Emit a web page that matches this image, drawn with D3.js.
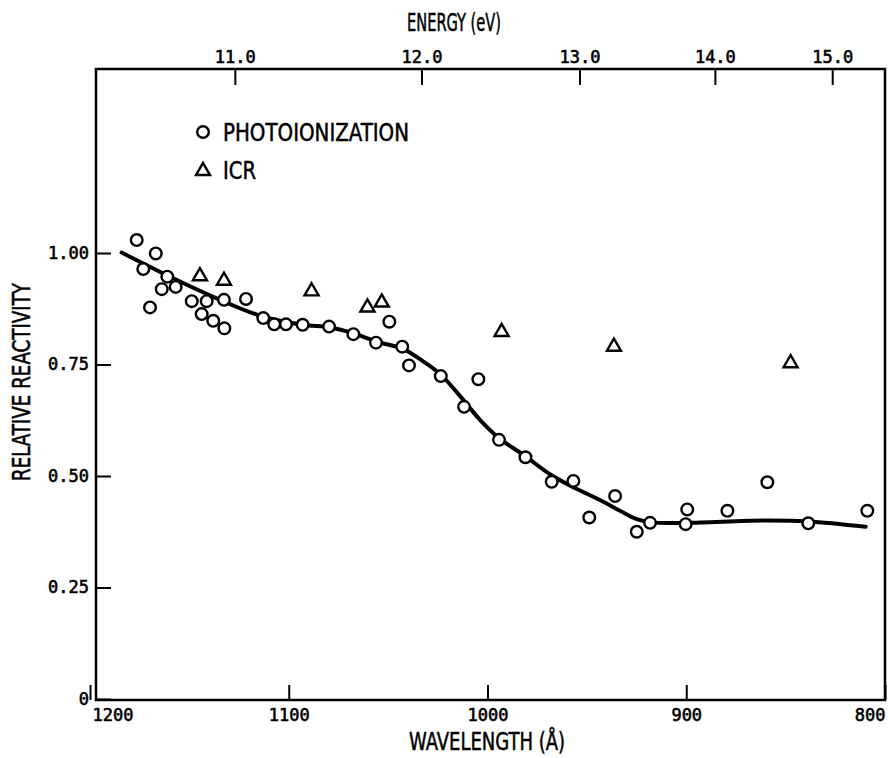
<!DOCTYPE html>
<html><head><meta charset="utf-8">
<script src="https://cdn.jsdelivr.net/npm/d3@7"></script>
<style>body{margin:0;background:#fff}</style></head>
<body>
<svg id="chart" width="888" height="758"></svg>
<script>
// ---- data ----
const photoWavelength = [1176.5,1166.9,1173.2,1161.1,1163.9,1156.9,1169.8,1148.8,1141.3,1132.6,1121.5,1143.8,1138.0,1132.4,1112.8,1107.3,1101.4,1093.0,1079.7,1067.5,1056.1,1049.4,1042.9,1039.5,1023.5,1004.6,1011.8,994.2,980.9,967.7,956.8,935.8,948.8,924.9,918.2,899.5,900.3,879.3,859.2,838.6,808.9];
const photoValue      = [1.029,0.999,0.964,0.947,0.919,0.924,0.878,0.892,0.892,0.895,0.897,0.863,0.848,0.831,0.854,0.840,0.840,0.839,0.835,0.818,0.799,0.846,0.790,0.748,0.724,0.717,0.655,0.581,0.542,0.487,0.489,0.455,0.407,0.375,0.395,0.425,0.392,0.422,0.486,0.394,0.422];
const icrWavelength = [1144.7,1132.6,1088.5,1060.4,1053.2,992.9,936.4,847.5];
const icrValue      = [0.948,0.938,0.914,0.878,0.889,0.823,0.790,0.753];
const curveWavelength = [1184.1,1161.3,1134.6,1112.8,1093.0,1079.2,1067.5,1055.7,1042.5,1034.0,1023.9,1013.8,1003.8,994.2,981.1,968.6,956.0,943.4,933.3,925.3,917.2,899.8,861.3,838.6,809.7];
const curveValue      = [1.001,0.950,0.895,0.857,0.839,0.833,0.820,0.801,0.785,0.762,0.729,0.679,0.626,0.585,0.545,0.504,0.473,0.446,0.422,0.404,0.396,0.395,0.400,0.398,0.386];
const wavelengthTicks = [1200,1100,1000,900,800];
const energyTicks = [11.0,12.0,13.0,14.0,15.0];
const reactivityTicks = [0,0.25,0.50,0.75,1.00];
const HC = 12398.4; // eV·Å

// ---- layout ----
const svg = d3.select('#chart');
const frame = {left:96, right:885, top:69, bottom:700};
const x = d3.scaleLinear().domain([1200,800]).range([90,885]);
const y = d3.scaleLinear().domain([0,1]).range([699,253]);

const monoFont = "'DejaVu Sans Mono', monospace";
const condFont = "'DejaVu Sans', sans-serif";

function styleAxis(g){
  g.select('.domain').remove();
  g.selectAll('.tick line').attr('stroke','#000').attr('stroke-width',2);
  g.selectAll('.tick text').attr('fill','#000')
    .style('font-family',monoFont).style('font-size','17px')
    .attr('stroke','#000').attr('stroke-width',0.6);
}

// bottom axis
const gB = svg.append('g').attr('transform',`translate(0,${frame.bottom})`)
  .call(d3.axisBottom(x).tickValues(wavelengthTicks).tickFormat(d3.format('d'))
        .tickSizeInner(-15).tickSizeOuter(0).tickPadding(9));
styleAxis(gB);
gB.selectAll('.tick').filter(d=>d===1200).select('text').attr('text-anchor','start').attr('x',2);
gB.selectAll('.tick').filter(d=>d===800).select('text').attr('text-anchor','end').attr('x',0);

// top axis (energy)
const gT = svg.append('g').attr('transform',`translate(0,${frame.top})`)
  .call(d3.axisTop(x).tickValues(energyTicks.map(E=>HC/E))
        .tickFormat(l=>(HC/l).toFixed(1))
        .tickSizeInner(-16).tickSizeOuter(0).tickPadding(6));
styleAxis(gT);

// left axis
const gL = svg.append('g').attr('transform',`translate(${frame.left},0)`)
  .call(d3.axisLeft(y).tickValues(reactivityTicks)
        .tickFormat(d=>d===0?'0':d3.format('.2f')(d))
        .tickSizeInner(-15).tickSizeOuter(0).tickPadding(7));
styleAxis(gL);

// frame
svg.append('rect').attr('x',frame.left).attr('y',frame.top)
  .attr('width',frame.right-frame.left).attr('height',frame.bottom-frame.top)
  .attr('fill','none').attr('stroke','#000').attr('stroke-width',2.5);

function title(sel){
  return sel.attr('lengthAdjust','spacingAndGlyphs')
    .style('font-family',condFont).style('font-stretch','condensed')
    .style('font-size','24px').attr('stroke','#000').attr('stroke-width',0.5);
}
// axis titles
svg.append('text').attr('x',454).attr('y',31).attr('text-anchor','middle')
  .attr('textLength',94).call(title).text('ENERGY (eV)');
svg.append('text').attr('x',487).attr('y',750).attr('text-anchor','middle')
  .attr('textLength',156).call(title).text('WAVELENGTH (Å)');
svg.append('text').attr('transform','translate(30,382) rotate(-90)').attr('text-anchor','middle')
  .attr('textLength',198).call(title).text('RELATIVE REACTIVITY');

// curve
const line = d3.line().x(d=>x(d[0])).y(d=>y(d[1])).curve(d3.curveCatmullRom.alpha(0.5));
svg.append('path').datum(curveWavelength.map((w,i)=>[w,curveValue[i]]))
  .attr('d',line).attr('fill','none').attr('stroke','#000').attr('stroke-width',4)
  .attr('stroke-linecap','round');

// photoionization circles
svg.append('g').selectAll('circle').data(photoWavelength.map((w,i)=>[w,photoValue[i]]))
  .join('circle').attr('cx',d=>x(d[0])).attr('cy',d=>y(d[1])).attr('r',5.8)
  .attr('fill','#fff').attr('stroke','#000').attr('stroke-width',2.4);

// ICR triangles
const tri = d3.symbol(d3.symbolTriangle,85);
svg.append('g').selectAll('path').data(icrWavelength.map((w,i)=>[w,icrValue[i]]))
  .join('path').attr('d',tri).attr('transform',d=>`translate(${x(d[0])},${y(d[1])})`)
  .attr('fill','#fff').attr('stroke','#000').attr('stroke-width',2.4);

// legend
svg.append('circle').attr('cx',203).attr('cy',132).attr('r',5.8)
  .attr('fill','#fff').attr('stroke','#000').attr('stroke-width',2.4);
svg.append('text').attr('x',223).attr('y',141).attr('textLength',186).call(title)
  .style('font-size','25px').text('PHOTOIONIZATION');
svg.append('path').attr('d',tri).attr('transform','translate(203,171)')
  .attr('fill','#fff').attr('stroke','#000').attr('stroke-width',2.4);
svg.append('text').attr('x',223).attr('y',179).attr('textLength',33).call(title)
  .style('font-size','25px').text('ICR');
</script>
</body></html>
